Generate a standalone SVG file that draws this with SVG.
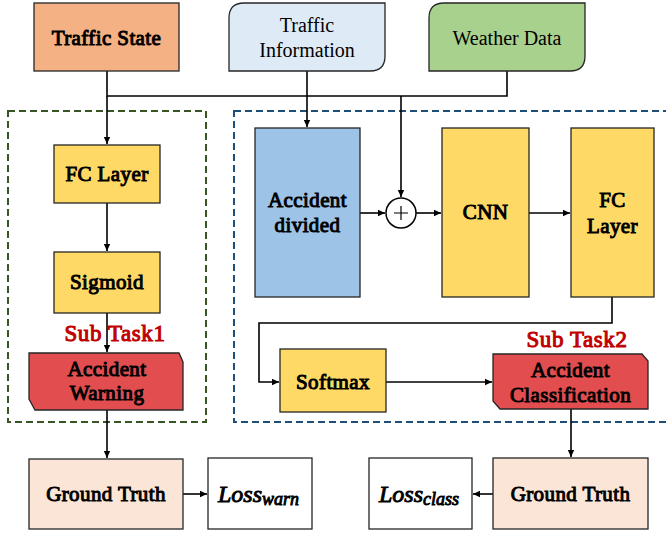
<svg xmlns="http://www.w3.org/2000/svg" width="666" height="537" viewBox="0 0 666 537">
  <defs>
    <marker id="arrow" markerWidth="8" markerHeight="8" refX="7" refY="4" orient="auto" markerUnits="userSpaceOnUse">
      <path d="M0,0.8 L7,4 L0,7.2 Z" fill="#000"/>
    </marker>
    <style>
      .box { stroke: #262626; stroke-width: 1.3; }
      .t { font-family: "Liberation Serif", "Times New Roman", serif; font-size: 20px; fill: #000; text-anchor: middle; }
      /* heavy serif labels: regular face thickened with a matching outline */
      .b { font-size: 21px; stroke: #000; stroke-width: 1; letter-spacing: 0.4px; }
      .red { fill: #C00000; stroke: #C00000; font-size: 23px; stroke-width: 1; letter-spacing: 0.6px; }
      .conn { fill: none; stroke: #000; stroke-width: 1.6; }
      .math { font-family: "Liberation Serif", "Times New Roman", serif; font-style: italic; fill: #000; stroke: #000; stroke-width: 0.9; }
    </style>
  </defs>

  <!-- dashed task regions -->
  <rect x="8" y="111" width="198" height="311" fill="none" stroke="#375623" stroke-width="2" stroke-dasharray="7,4"/>
  <rect x="234" y="111" width="440" height="311" fill="none" stroke="#1F4E79" stroke-width="2" stroke-dasharray="7,4"/>

  <!-- connectors -->
  <g id="connectors">
    <path class="conn" d="M107,71 V96 H507 V71"/>
    <path class="conn" d="M107,96 V144" marker-end="url(#arrow)"/>
    <path class="conn" d="M307,71 V127" marker-end="url(#arrow)"/>
    <path class="conn" d="M401,96 V197" marker-end="url(#arrow)"/>
    <path class="conn" d="M107,203 V251" marker-end="url(#arrow)"/>
    <path class="conn" d="M107,313 V352" marker-end="url(#arrow)"/>
    <path class="conn" d="M107,410 V458" marker-end="url(#arrow)"/>
    <path class="conn" d="M183,494 H207" marker-end="url(#arrow)"/>
    <path class="conn" d="M360,213 H385" marker-end="url(#arrow)"/>
    <path class="conn" d="M416,213 H441" marker-end="url(#arrow)"/>
    <path class="conn" d="M529,213 H570" marker-end="url(#arrow)"/>
    <path class="conn" d="M612,297 V323 H259 V382 H279" marker-end="url(#arrow)"/>
    <path class="conn" d="M386,382 H492" marker-end="url(#arrow)"/>
    <path class="conn" d="M571,409 V457" marker-end="url(#arrow)"/>
    <path class="conn" d="M493,494 H473" marker-end="url(#arrow)"/>
  </g>

  <g id="traffic-state">
    <rect class="box" x="34" y="3" width="145" height="68" fill="#F4B183"/>
    <text class="t b" x="106.5" y="45">Traffic State</text>
  </g>

  <g id="traffic-information">
    <path class="box" d="M244,3 H385 V56 Q385,71 370,71 H229 V18 Q229,3 244,3 Z" fill="#DEEBF7"/>
    <text class="t" x="307" y="32">Traffic</text>
    <text class="t" x="307" y="57">Information</text>
  </g>

  <g id="weather-data">
    <path class="box" d="M444,3 H585 V56 Q585,71 570,71 H429 V18 Q429,3 444,3 Z" fill="#A9D18E"/>
    <text class="t" x="507" y="45">Weather Data</text>
  </g>

  <g id="fc-layer-1">
    <rect class="box" x="54" y="145" width="106" height="58" fill="#FFD966"/>
    <text class="t b" x="107" y="181">FC Layer</text>
  </g>

  <g id="sigmoid">
    <rect class="box" x="54" y="252" width="106" height="61" fill="#FFD966"/>
    <text class="t b" x="107" y="289">Sigmoid</text>
  </g>

  <text class="t red" x="115" y="341">Sub Task1</text>

  <g id="accident-warning">
    <path class="box" d="M29,353 H179 L183,362 V410 H35 L29,399 Z" fill="#E24D4F"/>
    <text class="t b" x="107" y="376">Accident</text>
    <text class="t b" x="107" y="400">Warning</text>
  </g>

  <g id="ground-truth-1">
    <rect class="box" x="29" y="459" width="154" height="70" fill="#FBE5D6"/>
    <text class="t b" x="106" y="501">Ground Truth</text>
  </g>

  <g id="loss-warn">
    <rect class="box" x="208" y="458" width="104" height="71" fill="#FFFFFF"/>
    <text class="math" x="218" y="502" font-size="24">Loss<tspan font-size="18" dy="3">warn</tspan></text>
  </g>

  <g id="accident-divided">
    <rect class="box" x="255" y="128" width="105" height="169" fill="#9DC3E6"/>
    <text class="t b" x="307.5" y="207">Accident</text>
    <text class="t b" x="307.5" y="232">divided</text>
  </g>

  <g id="sum">
    <circle cx="401" cy="213" r="15" fill="#FFFFFF" stroke="#000" stroke-width="1.5"/>
    <path d="M401,206 V220 M394,213 H408" stroke="#000" stroke-width="1.2"/>
  </g>

  <g id="cnn">
    <rect class="box" x="442" y="128" width="87" height="169" fill="#FFD966"/>
    <text class="t b" x="485.5" y="219">CNN</text>
  </g>

  <g id="fc-layer-2">
    <rect class="box" x="571" y="128" width="83" height="169" fill="#FFD966"/>
    <text class="t b" x="612.5" y="207">FC</text>
    <text class="t b" x="612.5" y="233">Layer</text>
  </g>

  <g id="softmax">
    <rect class="box" x="280" y="349" width="106" height="63" fill="#FFD966"/>
    <text class="t b" x="333" y="389">Softmax</text>
  </g>

  <text class="t red" x="577" y="347">Sub Task2</text>

  <g id="accident-classification">
    <path class="box" d="M493,354 H642 L648,361 V409 H500 L493,401 Z" fill="#E24D4F"/>
    <text class="t b" x="570.5" y="377">Accident</text>
    <text class="t b" x="570.5" y="402">Classification</text>
  </g>

  <g id="loss-class">
    <rect class="box" x="369" y="458" width="103" height="71" fill="#FFFFFF"/>
    <text class="math" x="379" y="502" font-size="24">Loss<tspan font-size="18" dy="3">class</tspan></text>
  </g>

  <g id="ground-truth-2">
    <rect class="box" x="493" y="458" width="155" height="71" fill="#FBE5D6"/>
    <text class="t b" x="570.5" y="501">Ground Truth</text>
  </g>
</svg>
